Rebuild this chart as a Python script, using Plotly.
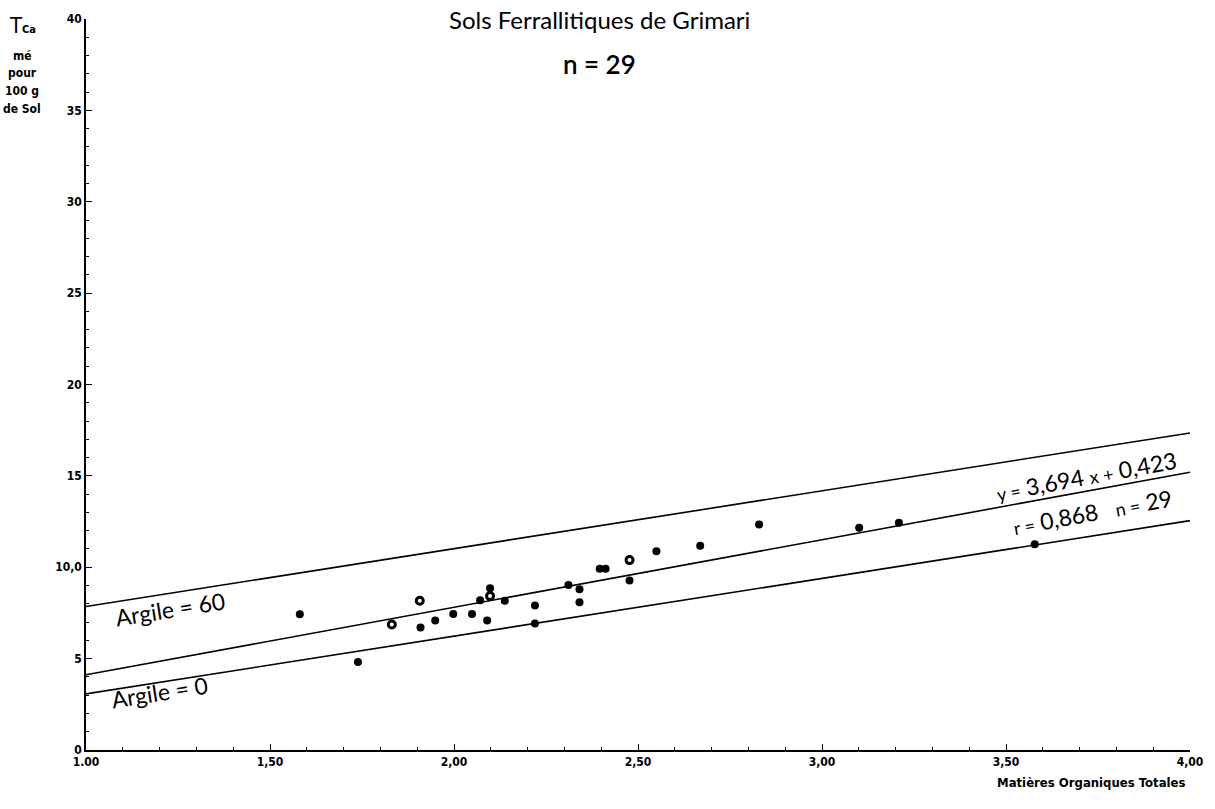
import plotly.graph_objects as go

# ---- data ----
mo_filled = [1.581, 1.739, 1.909, 1.949, 1.998, 2.049, 2.071, 2.090, 2.098, 2.138,
             2.220, 2.220, 2.311, 2.341, 2.341, 2.396, 2.412, 2.477, 2.550, 2.669,
             2.829, 3.101, 3.209, 3.578]
t_filled = [7.43, 4.81, 6.70, 7.08, 7.44, 7.44, 8.20, 7.08, 8.85, 8.17,
            7.91, 6.92, 9.03, 8.80, 8.08, 9.92, 9.92, 9.27, 10.88, 11.18,
            12.34, 12.16, 12.43, 11.26]
mo_open = [1.831, 1.907, 2.098, 2.477]
t_open = [6.87, 8.17, 8.42, 10.39]

reg_slope = 3.694
reg_intercept = 0.423
line_x = [1.0, 4.0]
argile0_y = [3.07, 12.55]
argile60_y = [7.85, 17.35]

x_tickvals = [1.0, 1.5, 2.0, 2.5, 3.0, 3.5, 4.0]
x_ticktext = ["1.00", "1,50", "2,00", "2,50", "3,00", "3,50", "4,00"]
y_tickvals = [0, 5, 10, 15, 20, 25, 30, 35, 40]
y_ticktext = ["0", "5", "10,0", "15", "20", "25", "30", "35", "40"]

reg_y = [reg_slope * x + reg_intercept for x in line_x]

COND = "DejaVu Sans Condensed, DejaVu Sans"
TICKFONT = dict(family=COND, size=12, color="black", weight="bold")
TXTFONT = "Lato, Open Sans, sans-serif"

fig = go.Figure()
line_style = dict(color="black", width=1.6)
fig.add_trace(go.Scatter(x=line_x, y=argile60_y, mode="lines", line=line_style, hoverinfo="skip"))
fig.add_trace(go.Scatter(x=line_x, y=reg_y, mode="lines", line=line_style, hoverinfo="skip"))
fig.add_trace(go.Scatter(x=line_x, y=argile0_y, mode="lines", line=line_style, hoverinfo="skip"))
fig.add_trace(go.Scatter(x=mo_filled, y=t_filled, mode="markers",
                         marker=dict(color="black", size=8, line=dict(width=0))))
fig.add_trace(go.Scatter(x=mo_open, y=t_open, mode="markers",
                         marker=dict(color="white", size=7, line=dict(width=3, color="black"))))

fig.update_layout(
    width=1215, height=809,
    margin=dict(l=86, r=19, t=12, b=59),
    paper_bgcolor="white", plot_bgcolor="white",
    showlegend=False,
    xaxis=dict(range=[1, 4], showgrid=False, zeroline=False, showline=True,
               linecolor="black", linewidth=1.5, ticks="inside", ticklen=6,
               tickcolor="black", tickwidth=1.2,
               tickvals=x_tickvals, ticktext=x_ticktext, tickfont=TICKFONT,
               minor=dict(dtick=0.1, ticks="inside", ticklen=3, tickcolor="black", showgrid=False)),
    yaxis=dict(range=[0, 40], showgrid=False, zeroline=False, showline=True,
               linecolor="black", linewidth=1.5, ticks="inside", ticklen=6,
               tickcolor="black", tickwidth=1.2,
               tickvals=y_tickvals, ticktext=y_ticktext, tickfont=TICKFONT,
               minor=dict(dtick=1, ticks="inside", ticklen=3, tickcolor="black", showgrid=False)),
)

ann = []
# title
ann.append(dict(x=2.395, y=40.0, xref="x", yref="y", text="Sols Ferrallitiques de Grimari",
                showarrow=False, font=dict(family=TXTFONT, size=24, color="black"),
                xanchor="center", yanchor="middle"))
ann.append(dict(x=2.395, y=37.55, xref="x", yref="y", text="n = 29",
                showarrow=False, font=dict(family=TXTFONT, size=26, color="black", weight=600),
                xanchor="center", yanchor="middle"))
# line labels
ann.append(dict(x=1.228, y=7.7, xref="x", yref="y", text="Argile = 60", textangle=-9,
                showarrow=False, font=dict(family=TXTFONT, size=23, color="black")))
ann.append(dict(x=1.2, y=3.15, xref="x", yref="y", text="Argile = 0", textangle=-9,
                showarrow=False, font=dict(family=TXTFONT, size=23, color="black")))
ann.append(dict(x=3.719, y=15.0, xref="x", yref="y",
                text="<span style='font-size:18px'>y =</span> 3,694 <span style='font-size:18px'>x +</span> 0,423",
                textangle=-10.4, showarrow=False, font=dict(family=TXTFONT, size=23, color="black")))
ann.append(dict(x=3.734, y=13.05, xref="x", yref="y",
                text="<span style='font-size:18px'>r =</span> 0,868 &nbsp; <span style='font-size:18px'>n =</span> 29",
                textangle=-10.4, showarrow=False, font=dict(family=TXTFONT, size=23, color="black")))
# y-axis label (top left)
yl_font = dict(family=COND, size=12, color="black", weight="bold")
ann.append(dict(x=-0.0577, y=(750 - 19) / 738, xref="paper", yref="paper",
                text="<span style='font-size:22px;font-weight:normal'>T</span><span style='font-size:11px'>Ca</span>",
                showarrow=False, font=yl_font, xanchor="center", yanchor="middle"))
for txt, py in [("mé", 49), ("pour", 67), ("100 g", 85), ("de Sol", 103)]:
    ann.append(dict(x=-0.0577, y=(750 - py) / 738, xref="paper", yref="paper", text=txt,
                    showarrow=False, font=yl_font, xanchor="center", yanchor="middle"))
# x-axis label
ann.append(dict(x=(1193 - 86) / 1110, y=(750 - 783) / 738, xref="paper", yref="paper",
                text="Matières Organiques Totales", showarrow=False,
                font=dict(family=COND, size=13, color="black", weight="bold"),
                xanchor="right", yanchor="middle"))
fig.update_layout(annotations=ann)

fig.write_html("out.html")
